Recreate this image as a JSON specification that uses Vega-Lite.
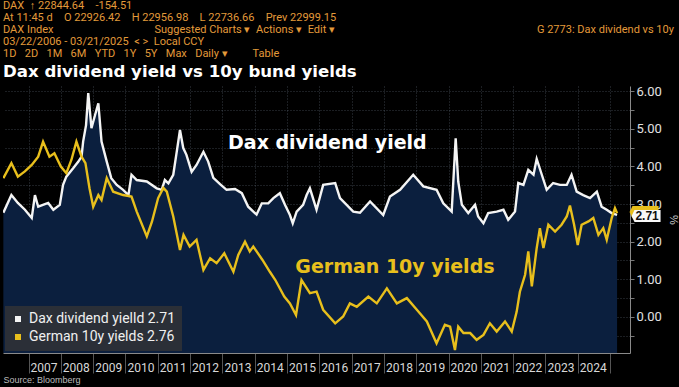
{
  "$schema": "https://vega.github.io/schema/vega-lite/v6.json",
  "width": 627,
  "height": 267,
  "autosize": {"type": "none"},
  "padding": {"left": 3, "top": 86, "right": 49, "bottom": 34},
  "background": "#000000",
  "title": {
    "text": [
      "DAX\u2002\u2191 22844.64\u2003-154.51",
      "At 11:45 d\u2003O 22926.42\u2003H 22956.98\u2003L 22736.66\u2003Prev 22999.15",
      "DAX Index\u2003\u2003\u2003\u2003\u2003\u2003\u2003\u2003\u2003Suggested Charts \u25be\u2002Actions \u25be\u2002Edit \u25be\u2003\u2003\u2003\u2003\u2003\u2003\u2003\u2003\u2003\u2003\u2003\u2003\u2003\u2003\u2003\u2003\u2003\u2003G 2773: Dax dividend vs 10y",
      "03/22/2006 - 03/21/2025\u2002< >\u2002Local CCY",
      "1D\u2002 2D\u2002 1M\u2002 6M\u2002 YTD\u2002 1Y\u2002 5Y\u2002 Max\u2002 Daily \u25be\u2003\u2003 Table"
    ],
    "subtitle": "Dax dividend yield vs 10y bund yields",
    "anchor": "start",
    "frame": "group",
    "font": "Liberation Sans Narrow, Roboto, sans-serif",
    "fontSize": 11,
    "fontWeight": "normal",
    "color": "#e39a3a",
    "lineHeight": 12,
    "subtitleFont": "DejaVu Sans",
    "subtitleFontSize": 16.6,
    "subtitleFontWeight": "bold",
    "subtitleColor": "#ffffff",
    "subtitlePadding": 5,
    "offset": 5
  },
  "datasets": {
    "div": [
      {"d": "2006-03-22", "v": 2.77}, {"d": "2006-06-21", "v": 3.24}, {"d": "2006-09-02", "v": 3.03},
      {"d": "2006-11-21", "v": 2.85}, {"d": "2007-02-06", "v": 2.63}, {"d": "2007-03-14", "v": 3.24},
      {"d": "2007-04-20", "v": 2.93}, {"d": "2007-08-11", "v": 3.03}, {"d": "2007-10-08", "v": 2.85},
      {"d": "2007-12-20", "v": 2.98}, {"d": "2008-01-26", "v": 3.51}, {"d": "2008-03-03", "v": 3.73},
      {"d": "2008-05-19", "v": 3.95}, {"d": "2008-07-17", "v": 4.13}, {"d": "2008-08-22", "v": 4.26},
      {"d": "2008-09-09", "v": 4.66}, {"d": "2008-10-12", "v": 5.1}, {"d": "2008-11-06", "v": 5.95},
      {"d": "2008-12-12", "v": 5.02}, {"d": "2009-01-22", "v": 5.37}, {"d": "2009-02-28", "v": 5.68},
      {"d": "2009-04-05", "v": 4.66}, {"d": "2009-06-03", "v": 4.13}, {"d": "2009-07-24", "v": 3.69},
      {"d": "2009-09-24", "v": 3.51}, {"d": "2009-12-05", "v": 3.38}, {"d": "2010-02-03", "v": 3.24},
      {"d": "2010-03-10", "v": 3.78}, {"d": "2010-05-08", "v": 3.64}, {"d": "2010-08-30", "v": 3.6},
      {"d": "2010-12-20", "v": 3.42}, {"d": "2011-02-14", "v": 3.38},
      {"d": "2011-03-22", "v": 3.64}, {"d": "2011-05-01", "v": 3.55}, {"d": "2011-06-25", "v": 3.78},
      {"d": "2011-08-04", "v": 4.4}, {"d": "2011-09-09", "v": 4.97}, {"d": "2011-10-16", "v": 4.49},
      {"d": "2011-11-21", "v": 4.31}, {"d": "2012-01-19", "v": 3.86}, {"d": "2012-03-14", "v": 4.04},
      {"d": "2012-05-31", "v": 4.39}, {"d": "2012-07-24", "v": 4.13}, {"d": "2012-09-20", "v": 3.7},
      {"d": "2012-12-05", "v": 3.53}, {"d": "2013-02-17", "v": 3.38}, {"d": "2013-05-23", "v": 3.4},
      {"d": "2013-08-08", "v": 3.29}, {"d": "2013-10-19", "v": 2.93}, {"d": "2014-01-22", "v": 2.72},
      {"d": "2014-03-22", "v": 3.02}, {"d": "2014-06-03", "v": 3.02}, {"d": "2014-07-31", "v": 3.16},
      {"d": "2014-10-12", "v": 3.29}, {"d": "2014-12-09", "v": 2.98}, {"d": "2015-02-03", "v": 2.71},
      {"d": "2015-03-07", "v": 2.49}, {"d": "2015-04-20", "v": 2.8}, {"d": "2015-07-02", "v": 2.98},
      {"d": "2015-08-11", "v": 3.24}, {"d": "2015-09-17", "v": 3.42}, {"d": "2015-12-01", "v": 2.85},
      {"d": "2016-02-14", "v": 3.51}, {"d": "2016-06-29", "v": 3.56}, {"d": "2016-08-22", "v": 3.16},
      {"d": "2017-01-19", "v": 2.8}, {"d": "2017-04-05", "v": 2.77}, {"d": "2017-07-28", "v": 3.07},
      {"d": "2017-12-24", "v": 2.71}, {"d": "2018-03-10", "v": 3.2}, {"d": "2018-07-02", "v": 3.38},
      {"d": "2018-11-28", "v": 3.78}, {"d": "2019-03-22", "v": 3.47}, {"d": "2019-08-19", "v": 3.38},
      {"d": "2019-11-03", "v": 3.02}, {"d": "2020-02-06", "v": 2.8}, {"d": "2020-03-22", "v": 4.75},
      {"d": "2020-04-20", "v": 3.6}, {"d": "2020-05-31", "v": 2.98}, {"d": "2020-08-11", "v": 2.76},
      {"d": "2020-10-27", "v": 2.98}, {"d": "2020-12-01", "v": 2.67}, {"d": "2021-01-30", "v": 2.49},
      {"d": "2021-03-25", "v": 2.76}, {"d": "2021-06-29", "v": 2.8}, {"d": "2021-09-13", "v": 2.85},
      {"d": "2021-11-06", "v": 2.58}, {"d": "2022-01-22", "v": 2.8}, {"d": "2022-02-28", "v": 3.56},
      {"d": "2022-04-27", "v": 3.51}, {"d": "2022-06-21", "v": 3.91}, {"d": "2022-08-19", "v": 3.78},
      {"d": "2022-09-24", "v": 4.2}, {"d": "2022-11-21", "v": 3.78}, {"d": "2023-01-15", "v": 3.38},
      {"d": "2023-03-29", "v": 3.56}, {"d": "2023-06-14", "v": 3.51}, {"d": "2023-08-30", "v": 3.51},
      {"d": "2023-10-23", "v": 3.78}, {"d": "2023-12-20", "v": 3.33}, {"d": "2024-03-03", "v": 3.24},
      {"d": "2024-05-19", "v": 3.16}, {"d": "2024-08-04", "v": 3.33}, {"d": "2024-09-27", "v": 2.93},
      {"d": "2024-11-24", "v": 2.85}, {"d": "2025-01-19", "v": 2.76}, {"d": "2025-03-21", "v": 2.71}
    ],
    "bund": [
      {"d": "2006-03-22", "v": 3.69}, {"d": "2006-06-21", "v": 4.09}, {"d": "2006-09-02", "v": 3.73},
      {"d": "2006-11-20", "v": 3.87}, {"d": "2007-02-06", "v": 4.04}, {"d": "2007-04-20", "v": 4.26},
      {"d": "2007-06-14", "v": 4.66}, {"d": "2007-08-25", "v": 4.26}, {"d": "2007-10-20", "v": 4.35},
      {"d": "2008-01-01", "v": 4.0}, {"d": "2008-03-03", "v": 3.82}, {"d": "2008-04-30", "v": 4.18},
      {"d": "2008-06-25", "v": 4.66}, {"d": "2008-08-22", "v": 4.26}, {"d": "2008-10-05", "v": 4.09},
      {"d": "2008-11-20", "v": 3.42}, {"d": "2009-01-01", "v": 2.93}, {"d": "2009-02-28", "v": 3.24},
      {"d": "2009-04-05", "v": 3.11}, {"d": "2009-06-03", "v": 3.69}, {"d": "2009-08-15", "v": 3.33},
      {"d": "2009-12-05", "v": 3.24}, {"d": "2010-03-10", "v": 3.2}, {"d": "2010-05-08", "v": 2.8},
      {"d": "2010-08-30", "v": 2.14}, {"d": "2010-10-27", "v": 2.53}, {"d": "2011-01-05", "v": 3.16},
      {"d": "2011-03-05", "v": 3.43}, {"d": "2011-04-13", "v": 3.33}, {"d": "2011-06-25", "v": 2.67},
      {"d": "2011-09-09", "v": 1.78}, {"d": "2011-10-19", "v": 2.18}, {"d": "2011-12-28", "v": 1.87},
      {"d": "2012-03-14", "v": 2.05}, {"d": "2012-05-31", "v": 1.25}, {"d": "2012-08-15", "v": 1.56},
      {"d": "2012-10-27", "v": 1.43}, {"d": "2013-01-22", "v": 1.69}, {"d": "2013-05-05", "v": 1.2},
      {"d": "2013-06-29", "v": 1.65}, {"d": "2013-09-13", "v": 2.0}, {"d": "2013-11-06", "v": 1.74},
      {"d": "2013-12-16", "v": 1.87}, {"d": "2014-03-28", "v": 1.52}, {"d": "2014-06-21", "v": 1.2},
      {"d": "2014-08-22", "v": 0.98}, {"d": "2014-12-01", "v": 0.54}, {"d": "2015-02-03", "v": 0.36},
      {"d": "2015-04-13", "v": 0.05}, {"d": "2015-06-14", "v": 0.98}, {"d": "2015-09-17", "v": 0.63},
      {"d": "2015-12-01", "v": 0.67}, {"d": "2016-02-14", "v": 0.19}, {"d": "2016-06-29", "v": -0.17},
      {"d": "2016-09-27", "v": 0.01}, {"d": "2016-12-12", "v": 0.36}, {"d": "2017-02-28", "v": 0.27},
      {"d": "2017-07-09", "v": 0.54}, {"d": "2017-10-12", "v": 0.36}, {"d": "2018-02-03", "v": 0.76},
      {"d": "2018-05-27", "v": 0.36}, {"d": "2018-09-17", "v": 0.5}, {"d": "2019-01-08", "v": 0.19},
      {"d": "2019-05-01", "v": -0.12}, {"d": "2019-08-19", "v": -0.7}, {"d": "2019-11-21", "v": -0.21},
      {"d": "2020-01-19", "v": -0.26}, {"d": "2020-03-14", "v": -0.88}, {"d": "2020-04-20", "v": -0.26},
      {"d": "2020-06-18", "v": -0.43},
      {"d": "2020-09-02", "v": -0.43}, {"d": "2020-11-14", "v": -0.61}, {"d": "2021-01-30", "v": -0.48},
      {"d": "2021-04-13", "v": -0.17}, {"d": "2021-06-29", "v": -0.39}, {"d": "2021-10-01", "v": -0.12},
      {"d": "2021-12-16", "v": -0.39}, {"d": "2022-02-10", "v": 0.14}, {"d": "2022-03-18", "v": 0.67},
      {"d": "2022-05-16", "v": 1.12}, {"d": "2022-06-21", "v": 1.74}, {"d": "2022-07-31", "v": 0.81},
      {"d": "2022-09-24", "v": 1.83}, {"d": "2022-10-30", "v": 2.36}, {"d": "2022-12-09", "v": 1.83},
      {"d": "2023-02-03", "v": 2.45}, {"d": "2023-04-20", "v": 2.27}, {"d": "2023-07-02", "v": 2.45},
      {"d": "2023-08-30", "v": 2.67}, {"d": "2023-10-05", "v": 2.96}, {"d": "2023-11-21", "v": 2.45},
      {"d": "2024-01-01", "v": 1.91}, {"d": "2024-02-14", "v": 2.45}, {"d": "2024-05-01", "v": 2.54},
      {"d": "2024-06-25", "v": 2.63}, {"d": "2024-08-22", "v": 2.18}, {"d": "2024-10-16", "v": 2.36},
      {"d": "2024-11-24", "v": 2.05}, {"d": "2025-01-19", "v": 2.63}, {"d": "2025-02-25", "v": 2.89},
      {"d": "2025-03-21", "v": 2.76}
    ]
  },
  "encoding": {
    "x": {
      "field": "d", "type": "temporal",
      "scale": {"domain": [{"year": 2006, "month": 3, "date": 18}, {"year": 2025, "month": 8, "date": 14}]},
      "axis": {
        "orient": "bottom",
        "format": "%Y",
        "tickCount": {"interval": "year", "step": 1},
        "labelExpr": "year(datum.value) > 2024 ? '' : datum.label",
        "labelOffset": 15,
        "tickSize": 20,
        "labelPadding": -11,
        "labelBaseline": "top",
        "labelOverlap": false,
        "labelFlush": false,
        "labelBound": false,
        "grid": true,
        "gridDash": [1, 2],
        "gridColor": "#8796ab",
        "gridOpacity": 0.4,
        "tickColor": "#555555",
        "domainColor": "#8a8a8a",
        "labelColor": "#d8d8d8",
        "labelFontSize": 12,
        "labelFont": "Liberation Sans Narrow, Roboto, sans-serif",
        "title": "Source: Bloomberg",
        "titleAnchor": "start",
        "titleFontSize": 9,
        "titleFontWeight": "normal",
        "titleColor": "#bdbdbd",
        "titleFont": "Liberation Sans",
        "titlePadding": 2
      }
    },
    "y": {
      "field": "v", "type": "quantitative",
      "scale": {"domain": [-0.96, 6.14], "nice": false, "zero": false},
      "axis": {
        "orient": "right",
        "values": [-0.5, 0, 0.5, 1, 1.5, 2, 2.5, 3, 3.5, 4, 4.5, 5, 5.5, 6],
        "labelExpr": "datum.value % 1 == 0 ? format(datum.value, '.2f') : ''",
        "labelOverlap": false,
        "labelBound": false,
        "labelFlush": false,
        "tickSize": 4,
        "labelPadding": 2,
        "grid": true,
        "gridDash": [1, 2],
        "gridColor": "#8796ab",
        "gridOpacity": 0.4,
        "tickColor": "#777777",
        "domainColor": "#8a8a8a",
        "labelColor": "#e0e0e0",
        "labelFontSize": 13,
        "labelFont": "Liberation Sans Narrow, Roboto, sans-serif",
        "title": "%",
        "titleAngle": 90,
        "titleFontSize": 11,
        "titleFontWeight": "normal",
        "titleColor": "#d0d0d0",
        "titlePadding": 6
      }
    }
  },
  "layer": [
    {
      "data": {"name": "div"},
      "mark": {"type": "area", "color": "#0b1f3e", "clip": true},
      "encoding": {
        "y2": {"datum": -0.96}
      }
    },
    {
      "data": {"name": "div"},
      "mark": {"type": "line", "strokeWidth": 2.4, "clip": true},
      "encoding": {
        "color": {
          "datum": "Dax dividend yielld 2.71",
          "scale": {"domain": ["Dax dividend yielld 2.71", "German 10y yields 2.76"], "range": ["#f4f4f4", "#e8bf1c"]},
          "legend": {
            "orient": "bottom-left",
            "title": null,
            "offset": 2,
            "fillColor": "#2b2f37",
            "padding": 6,
            "symbolType": "square",
            "symbolSize": 9,
            "symbolStrokeWidth": 3,
            "labelFontSize": 14,
            "labelColor": "#f0f0f0",
            "labelFont": "Liberation Sans Narrow, Roboto, sans-serif",
            "labelLimit": 300,
            "rowPadding": 2
          }
        }
      }
    },
    {
      "data": {"name": "bund"},
      "mark": {"type": "line", "strokeWidth": 2.4, "clip": true},
      "encoding": {
        "color": {"datum": "German 10y yields 2.76"}
      }
    },
    {
      "data": {"values": [{"d": "2016-04-01", "v": 4.63}]},
      "mark": {"type": "text", "font": "DejaVu Sans", "fontWeight": "bold", "fontSize": 19, "color": "#ffffff", "align": "center", "baseline": "middle"},
      "encoding": {
        "text": {"value": "Dax dividend yield"}
      }
    },
    {
      "data": {"values": [{"d": "2018-05-05", "v": 1.34}]},
      "mark": {"type": "text", "font": "DejaVu Sans", "fontWeight": "bold", "fontSize": 19, "color": "#e8bf1c", "align": "center", "baseline": "middle"},
      "encoding": {
        "text": {"value": "German 10y yields"}
      }
    },
    {
      "data": {"values": [{"d": "2025-03-21", "v": 2.76}]},
      "mark": {"type": "point", "shape": "M-1,0 L-0.8,-0.42 L1,-0.42 L1,0.42 L-0.8,0.42 Z", "filled": true, "size": 841, "color": "#e8bf1c", "opacity": 1, "xOffset": 27, "yOffset": -1}
    },
    {
      "data": {"values": [{"d": "2025-03-21", "v": 2.71}]},
      "mark": {"type": "point", "shape": "M-1,0 L-0.8,-0.42 L1,-0.42 L1,0.42 L-0.8,0.42 Z", "filled": true, "size": 841, "color": "#f8f8f8", "opacity": 1, "xOffset": 29, "yOffset": 1}
    },
    {
      "data": {"values": [{"d": "2025-03-21", "v": 2.71}]},
      "mark": {"type": "text", "font": "Liberation Sans", "fontWeight": "bold", "fontSize": 12, "color": "#111111", "align": "center", "baseline": "middle", "dx": 30, "dy": 1},
      "encoding": {
        "text": {"value": "2.71"}
      }
    }
  ],
  "config": {
    "view": {"stroke": null}
  }
}
